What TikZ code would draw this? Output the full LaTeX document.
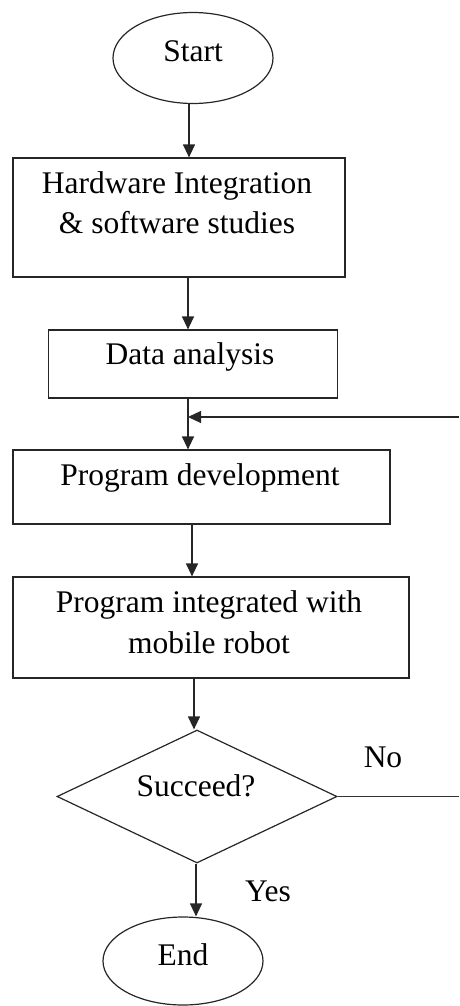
\documentclass[tikz,border=0pt]{standalone}
\usepackage{fontspec}
\setmainfont{Liberation Serif}
\usetikzlibrary{shapes.geometric,arrows.meta}
\tikzset{
  shapeline/.style={draw=black!85, line width=1.2pt},
  terminal/.style={shapeline, ellipse, inner sep=0pt},
  stepbox/.style={shapeline, rectangle, inner sep=0pt},
  decision/.style={shapeline, diamond, inner sep=0pt},
  lbl/.style={inner sep=0pt, anchor=base, font=\fontsize{31.5pt}{40pt}\selectfont},
  arr/.style={draw=black!85, line width=1.2pt, -{Triangle[length=13pt,width=12pt]}},
  plain/.style={draw=black!80, line width=1.2pt},
}
\begin{document}
\begin{tikzpicture}[x=1pt,y=-1pt]
\useasboundingbox (0,0) rectangle (459,1006);

% shapes
\node[terminal, minimum width=160pt, minimum height=91pt] (start) at (193,58) {};
\node[stepbox, minimum width=332pt, minimum height=119pt] (hw) at (179,217.5) {};
\node[stepbox, minimum width=289pt, minimum height=68pt] (data) at (193,364) {};
\node[stepbox, minimum width=377pt, minimum height=74pt] (prog) at (201.5,487) {};
\node[stepbox, minimum width=396pt, minimum height=101pt] (integ) at (211,627.5) {};
\node[decision, minimum width=280pt, minimum height=133pt] (dec) at (197,796.5) {};
\node[terminal, minimum width=160pt, minimum height=88pt] (end) at (183,961) {};

% texts
\node[lbl] (startT) at (193,62) {Start};
\node[lbl] (hwT1) at (177,193) {Hardware Integration};
\node[lbl] (hwT2) at (177,233) {\& software studies};
\node[lbl] (dataT) at (190,364) {Data analysis};
\node[lbl] (progT) at (200,485) {Program development};
\node[lbl] (integT1) at (209,612) {Program integrated with};
\node[lbl] (integT2) at (209,653) {mobile robot};
\node[lbl] (decT) at (196,796) {Succeed?};
\node[lbl] (noT) at (383,767) {No};
\node[lbl] (yesT) at (268,901) {Yes};
\node[lbl] (endT) at (183,965) {End};

% loose ends of the loop-back line at the right border
\coordinate (fbIn) at (459,417);
\coordinate (fbJoin) at (188,417);
\coordinate (noOut) at (459,796.5);

% connectors
\draw[arr] ([xshift=-4pt]start.south) -- ([xshift=10pt]hw.north);
\draw[arr] ([xshift=9pt]hw.south) -- ([xshift=-5pt]data.north);
\draw[arr] ([xshift=-5pt]data.south) -- ([xshift=-13.5pt]prog.north);
\draw[arr] (fbIn) -- (fbJoin);
\draw[arr] ([xshift=-9.5pt]prog.south) -- ([xshift=-19pt]integ.north);
\draw[arr] ([xshift=-17pt]integ.south) -- ([xshift=-3pt]dec.north);
\draw[arr] ([xshift=-1pt]dec.south) -- ([xshift=13pt]end.north);
\draw[plain] (dec.east) -- (noOut);
\end{tikzpicture}
\end{document}
